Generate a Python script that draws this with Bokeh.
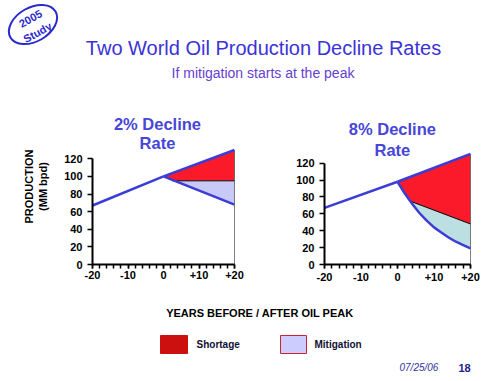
from bokeh.plotting import figure
from bokeh.layouts import column, row
from bokeh.models import Range1d, FixedTicker
from bokeh.core.properties import value
from bokeh.embed import file_html
from bokeh.resources import INLINE

FONT = "Liberation Sans"

# ---------------- data ----------------
hist_years = [-20, 0]
hist_left = [67, 100]
hist_right = [67, 98]

fut_years = [0, 20]
demand_left = [100, 130]
demand_right = [98, 131]

decline2_years = [0, 20]
decline2 = [100, 68]
mitig2_years = [0, 2.5, 20]
mitig2 = [100, 95, 95]

decline8_years = [0, 2, 4, 6, 8, 10, 12, 14, 16, 18, 20]
decline8 = [98, 84, 72, 61, 52, 44, 38, 32, 27, 23, 19]
mitig8_years = [0, 2, 3.5, 20]
mitig8 = [98, 84, 75, 48]

y_ticks = [0, 20, 40, 60, 80, 100, 120]
x_ticks = [-20, -10, 0, 10, 20]
x_minor = list(range(-20, 21, 2))
x_tick_labels = {-20: "-20", -10: "-10", 0: "0", 10: "+10", 20: "+20"}

chart_titles = [["2% Decline", "Rate"], ["8% Decline", "Rate"]]
legend_labels = ["Shortage", "Mitigation"]
legend_fill = ["#cc1010", "#ccccff"]
legend_line = ["#cc1010", "#cc2233"]

BLUE = "#3c3cd6"
RED = "#fa1a2a"
TITLE_BLUE = "#4646d8"


def base(width, height, xr, yr, **kw):
    p = figure(width=width, height=height, x_range=xr, y_range=yr,
               output_backend="svg", toolbar_location=None, **kw)
    p.outline_line_color = None
    p.background_fill_color = "white"
    p.border_fill_color = "white"
    p.grid.visible = False
    return p


# ---------------- header ----------------
hdr = base(503, 108, Range1d(0, 503), Range1d(0, 108),
           min_border_left=0, min_border_right=0, min_border_top=0, min_border_bottom=0,
           x_axis_location=None, y_axis_location=None)
hdr.ellipse(x=[32.5], y=[84], width=52, height=34, angle=0.52,
            fill_color=None, line_color="#2b2bcc", line_width=2)
hdr.text(x=[30, 37], y=[90, 76], text=["2005", "Study"], angle=0.5,
         text_font=value(FONT), text_font_size="11px", text_font_style="bold",
         text_color="#2b2bcc", text_align="center", text_baseline="middle")
hdr.text(x=[263], y=[61], text=["Two World Oil Production Decline Rates"],
         text_font=value(FONT), text_font_size="20px", text_color="#3b33d6",
         text_align="center", text_baseline="middle")
hdr.text(x=[262.5], y=[36], text=["If mitigation starts at the peak"],
         text_font=value(FONT), text_font_size="14px", text_color="#6640d0",
         text_align="center", text_baseline="middle")


# ---------------- charts ----------------
def chart(width, bl, br, bb, y_end, title_lines, tx, ty, hist, demand,
          dec_x, dec_y, mit_x, mit_y, mit_color, ylabel, tick_standoff, ylab_standoff):
    p = base(width, 195, Range1d(-20, 20), Range1d(0, y_end),
             min_border_left=bl, min_border_right=br, min_border_top=0, min_border_bottom=bb)
    # shortage (red) between demand and mitigated supply
    red_x = fut_years + mit_x[::-1]
    red_y = demand + mit_y[::-1]
    p.patch(red_x, red_y, fill_color=RED, line_color=None)
    # mitigation between mitigated supply and decline
    m_x = mit_x + dec_x[::-1]
    m_y = mit_y + dec_y[::-1]
    p.patch(m_x, m_y, fill_color=mit_color, line_color=None)
    p.line(mit_x[1:], mit_y[1:], line_color="black", line_width=1)
    p.segment(x0=[fut_years[-1]], y0=[0], x1=[fut_years[-1]], y1=[demand[-1]],
              line_color="black", line_width=1)
    p.line(hist_years, hist, line_color=BLUE, line_width=2.5)
    p.line(fut_years, demand, line_color=BLUE, line_width=2.5)
    p.line(dec_x, dec_y, line_color=BLUE, line_width=2.5)
    p.text(x=[tx, tx], y=ty, text=title_lines, text_font=value(FONT),
           text_font_size="16.5px", text_font_style="bold", text_color=TITLE_BLUE,
           text_align="center", text_baseline="middle")

    xa = p.xaxis[0]
    xa.ticker = FixedTicker(ticks=x_ticks, minor_ticks=x_minor)
    xa.major_label_overrides = x_tick_labels
    ya = p.yaxis[0]
    ya.ticker = FixedTicker(ticks=y_ticks)
    ya.bounds = (0, 120)
    for ax in (xa, ya):
        ax.axis_line_width = 2
        ax.axis_line_color = "black"
        ax.major_tick_line_width = 1.5
        ax.minor_tick_line_width = 1.5
        ax.major_tick_in = 0
        ax.minor_tick_in = 0
        ax.major_label_text_font = FONT
        ax.major_label_text_font_size = "11px"
        ax.major_label_text_font_style = "bold"
        ax.major_label_text_color = "black"
    xa.major_tick_out = 4
    xa.minor_tick_out = 4
    xa.major_label_standoff = tick_standoff
    ya.major_tick_out = 5
    ya.minor_tick_line_color = None
    ya.major_label_standoff = 5
    if ylabel:
        ya.axis_label = ylabel
        ya.axis_label_text_font = FONT
        ya.axis_label_text_font_size = "11px"
        ya.axis_label_text_font_style = "bold"
        ya.axis_label_text_color = "black"
        ya.axis_label_standoff = ylab_standoff
    return p


left = chart(253, 92, 19, 37, 177.1, chart_titles[0], -1.7, [160, 138],
             hist_left, demand_left, decline2_years, decline2, mitig2_years, mitig2,
             "#c9c9f7", "PRODUCTION\n(MM bpd)", 2, 12)
right = chart(250, 71, 33, 39, 184.8, chart_titles[1], -1.4, [160, 136],
              hist_right, demand_right, decline8_years, decline8, mitig8_years, mitig8,
              "#bcdfe1", None, 4, 0)

# ---------------- footer ----------------
ftr = base(503, 78, Range1d(0, 503), Range1d(0, 78),
           min_border_left=0, min_border_right=0, min_border_top=0, min_border_bottom=0,
           x_axis_location=None, y_axis_location=None)
ftr.text(x=[261], y=[69], text=["YEARS BEFORE / AFTER  OIL PEAK"],
         text_font=value(FONT), text_font_size="11px", text_font_style="bold",
         text_color="black", text_align="center", text_baseline="middle")
ftr.quad(left=[160, 280], right=[187, 306], bottom=[28, 28], top=[46, 46],
         fill_color=legend_fill, line_color=legend_line, line_width=1)
ftr.text(x=[196, 314], y=[37, 37], text=legend_labels,
         text_font=value(FONT), text_font_size="10px", text_font_style="bold",
         text_color="#111133", text_align="left", text_baseline="middle")
ftr.text(x=[399], y=[14], text=["07/25/06"], text_font=value(FONT),
         text_font_size="10px", text_font_style="italic", text_color="#333399",
         text_align="left", text_baseline="middle")
ftr.text(x=[458], y=[14], text=["18"], text_font=value(FONT),
         text_font_size="11px", text_font_style="bold", text_color="#222288",
         text_align="left", text_baseline="middle")

layout = column(hdr, row(left, right), ftr)
open("out.html", "w").write(file_html(layout, INLINE))
